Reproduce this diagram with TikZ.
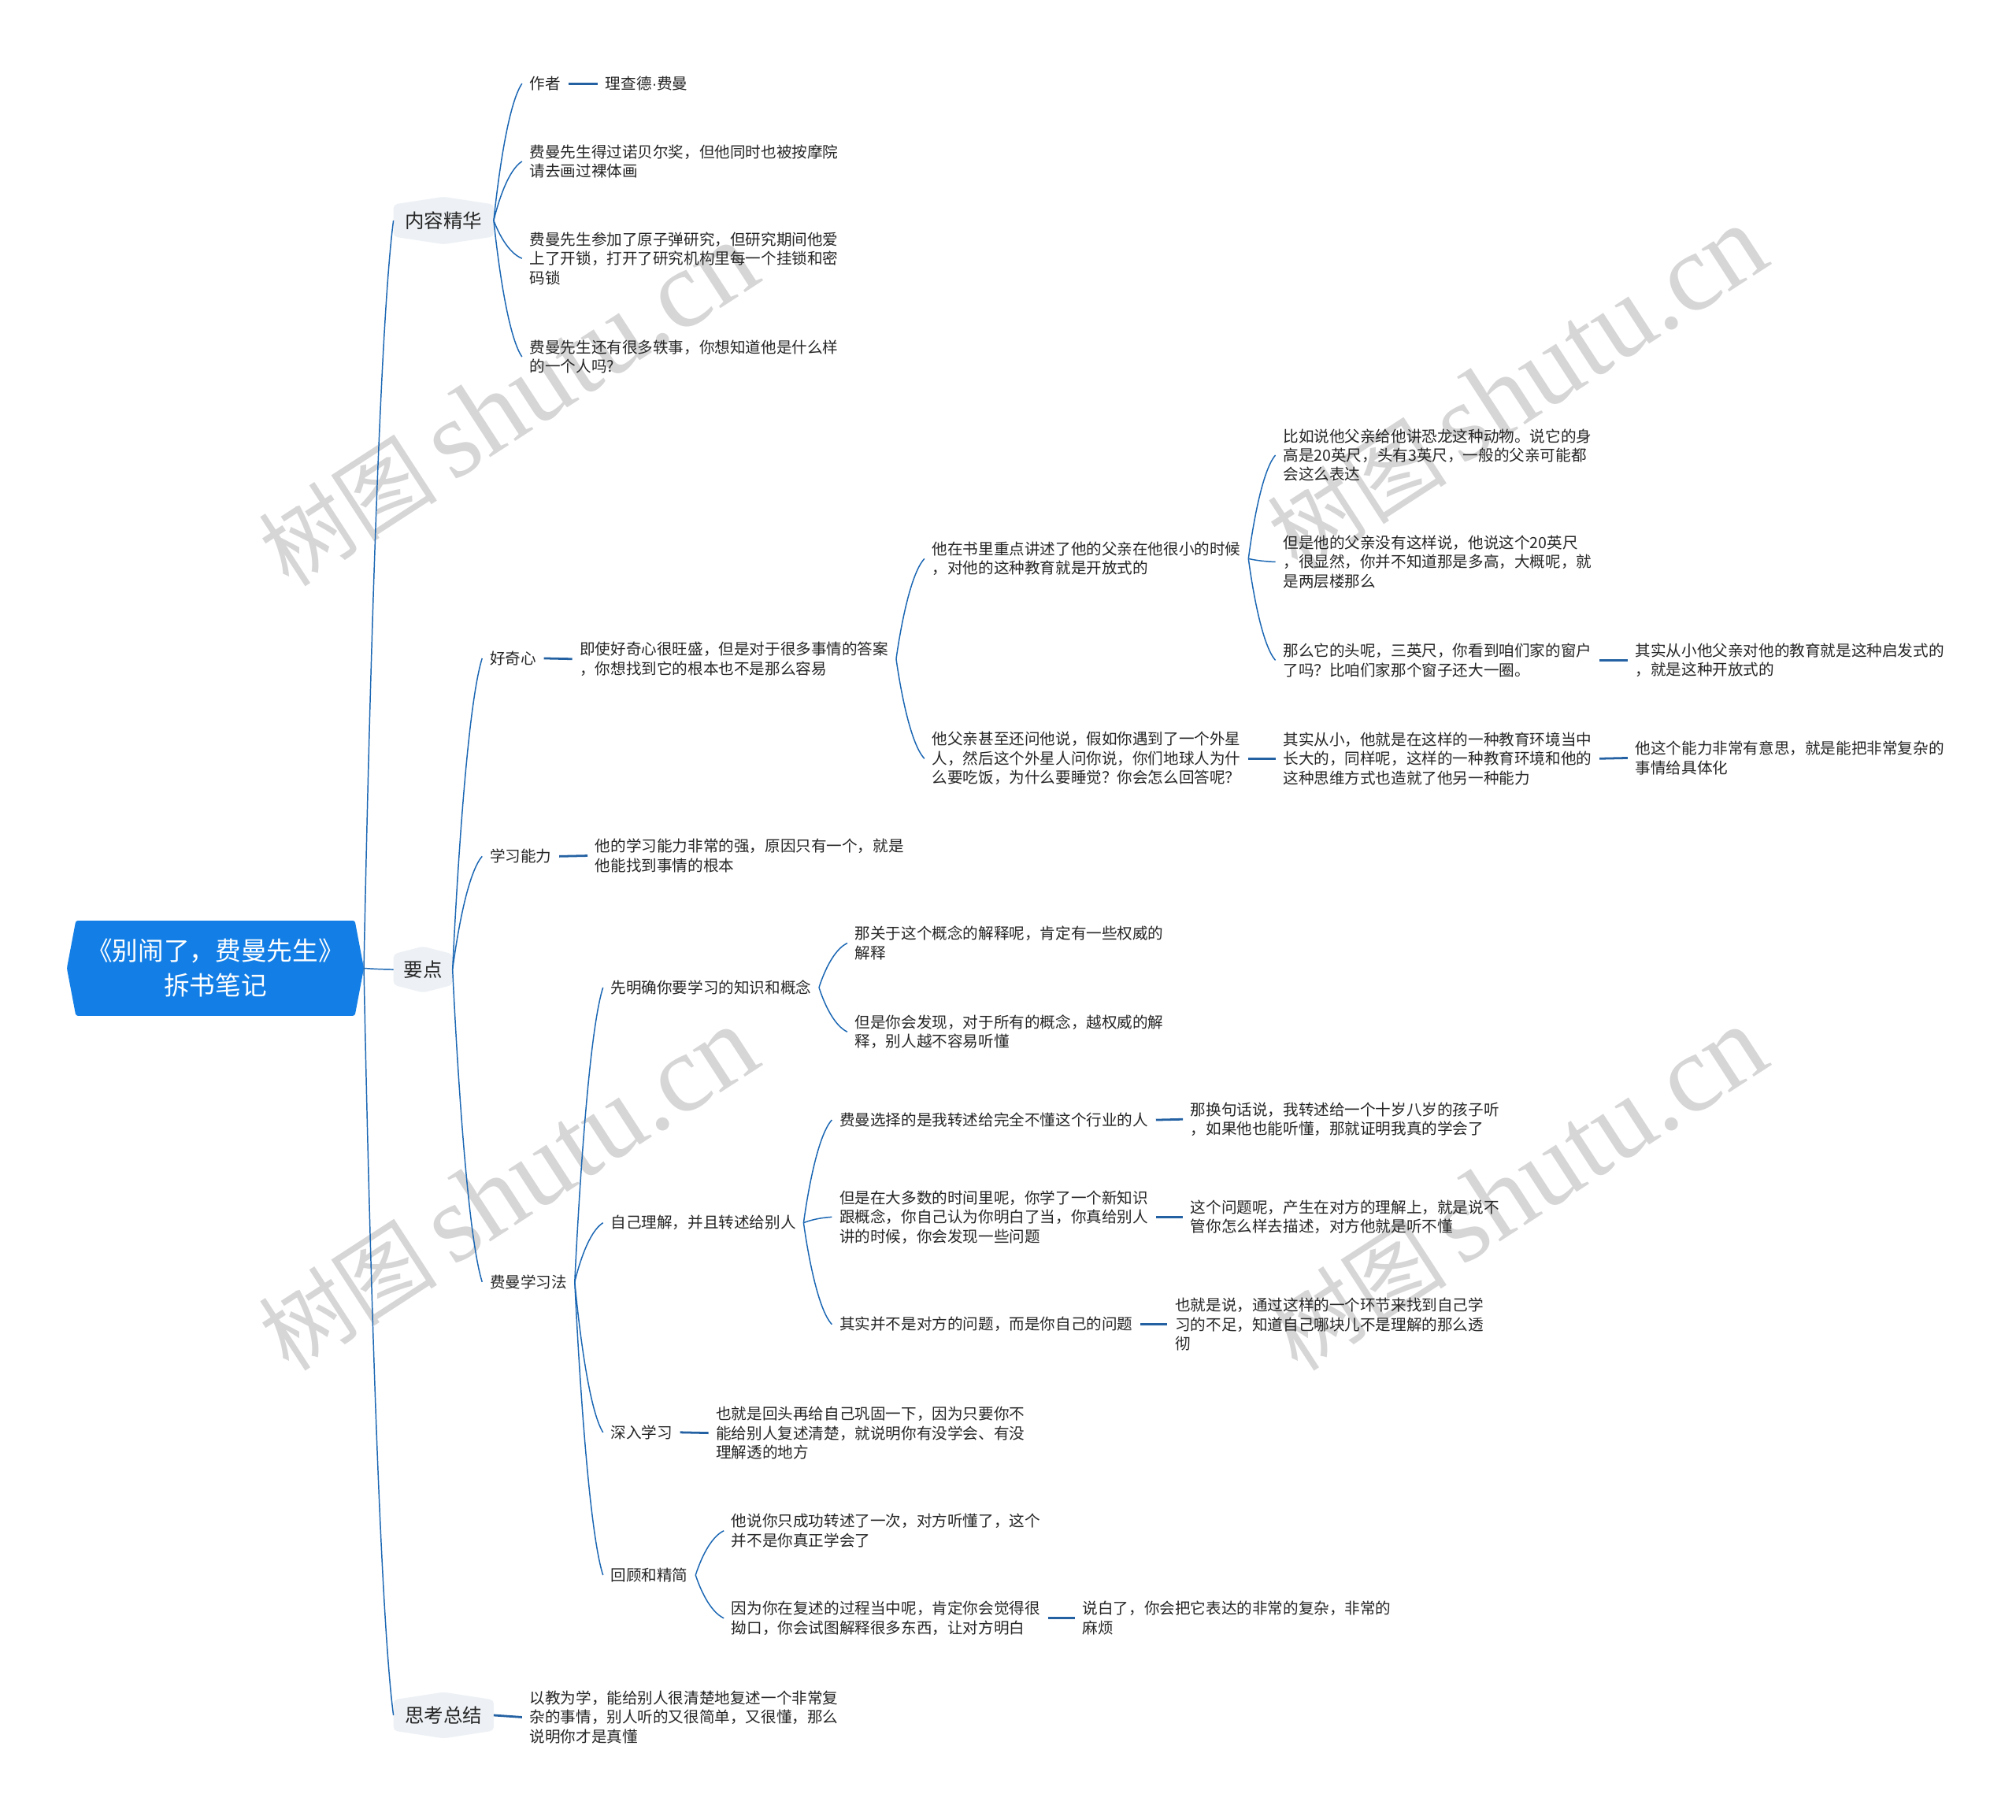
\documentclass[tikz,border=0pt]{standalone}
\usepackage{fontspec}
\setmainfont{Noto Sans CJK SC}
\newfontfamily\wmserif{Liberation Serif}
\newfontfamily\wmcjk{Noto Sans CJK SC}
\newfontfamily\latinsans{Liberation Sans}
\usetikzlibrary{calc}
\definecolor{linkc}{HTML}{1A66B3}
\definecolor{dashc}{HTML}{2461A3}
\definecolor{txtc}{HTML}{262626}
\definecolor{rootc}{HTML}{137FE6}
\definecolor{hexc}{HTML}{EDF1F5}
\definecolor{wmc}{HTML}{D6D6D6}
\tikzset{
  txt/.style={anchor=west, xshift=-3pt, inner sep=0pt, outer xsep=3pt, outer ysep=0pt, align=left, font=\fontsize{6pt}{7.5pt}\selectfont, text=txtc},
  hexlbl/.style={font=\fontsize{7.5pt}{9pt}\selectfont, text=txtc, inner sep=0pt, outer sep=0pt, minimum height=18pt},
  rootlbl/.style={font=\fontsize{10pt}{13.5pt}\selectfont, text=white, align=center, inner sep=0pt, outer sep=0pt, minimum width=115.5pt, minimum height=37pt},
  conlink/.style={draw=linkc, line width=0.45pt},
  dashcon/.style={draw=dashc, line width=0.85pt},
  wmark/.style={text=wmc, rotate=33, inner sep=0pt}
}
\newcommand\conncurve[2]{%
  \draw[conlink] let \p1=(#1.east), \p2=(#2.west) in (\p1) .. controls ({\x1+0.15*(\x2-\x1)},{\y1+0.3*(\y2-\y1)}) and ({\x1+0.5*(\x2-\x1)},{\y2-0.15*(\y2-\y1)}) .. (\p2);}
\newcommand\conndash[2]{\draw[dashcon] (#1.east) -- (#2.west);}
\begin{document}
\begin{tikzpicture}[x=0.5pt,y=-0.5pt]
\fill[white] (0,0) rectangle (1568,1415);
\useasboundingbox (0,0) rectangle (1568,1415);
% watermarks
\foreach \wx/\wy [count=\i] in {395/315,1180/302,395/925,1180/925}{
  \node[wmark] (wm\i) at (\wx,\wy) {{\wmcjk\fontsize{35pt}{35pt}\selectfont 树图}\hspace{6pt}{\wmserif\fontsize{43pt}{43pt}\selectfont shutu.cn}};
}
% root
\fill[rootc, rounded corners=0.8pt] (52,753) -- (59,716) -- (276,716) -- (283,753) -- (276,790) -- (59,790) -- cycle;
\node[rootlbl] (root) at (167.5,753) {《别闹了，费曼先生》\\拆书笔记};
% level 1
\fill[hexc, rounded corners=1.5pt] (306,159) -- (345,153) -- (384,159) -- (384,184) -- (345,190) -- (306,184) -- cycle;
\node[hexlbl, minimum width=39pt] (A) at (345,171.5) {内容精华};
\fill[hexc, rounded corners=1.5pt] (306,742) -- (329,736) -- (352,742) -- (352,766) -- (329,772) -- (306,766) -- cycle;
\node[hexlbl, minimum width=23pt] (B) at (329,754) {要点};
\fill[hexc, rounded corners=1.5pt] (306,1322) -- (345,1316) -- (384,1322) -- (384,1346) -- (345,1352) -- (306,1346) -- cycle;
\node[hexlbl, minimum width=39pt] (C) at (345,1334) {思考总结};
% content branch
\node[txt] (a1) at (412,65) {作者};
\node[txt] (a1x) at (471,65) {理查德{\latinsans ·}费曼};
\node[txt] (a2) at (412,125.5) {费曼先生得过诺贝尔奖，但他同时也被按摩院\\请去画过裸体画};
\node[txt] (a3) at (412,201) {费曼先生参加了原子弹研究，但研究期间他爱\\上了开锁，打开了研究机构里每一个挂锁和密\\码锁};
\node[txt] (a4) at (412,277.5) {费曼先生还有很多轶事，你想知道他是什么样\\的一个人吗?};
% key points
\node[txt] (b1) at (381,512) {好奇心};
\node[txt] (b1a) at (451,512.5) {即使好奇心很旺盛，但是对于很多事情的答案\\，你想找到它的根本也不是那么容易};
\node[txt] (b1a1) at (725,434.5) {他在书里重点讲述了他的父亲在他很小的时候\\，对他的这种教育就是开放式的};
\node[txt] (b1a2) at (725,590) {他父亲甚至还问他说，假如你遇到了一个外星\\人，然后这个外星人问你说，你们地球人为什\\么要吃饭，为什么要睡觉？你会怎么回答呢？};
\node[txt] (p1) at (998,354) {比如说他父亲给他讲恐龙这种动物。说它的身\\高是20英尺，头有3英尺，一般的父亲可能都\\会这么表达};
\node[txt] (p2) at (998,437) {但是他的父亲没有这样说，他说这个20英尺\\，很显然，你并不知道那是多高，大概呢，就\\是两层楼那么};
\node[txt] (p3) at (998,513.5) {那么它的头呢，三英尺，你看到咱们家的窗户\\了吗？比咱们家那个窗子还大一圈。};
\node[txt] (p3a) at (1272,513.5) {其实从小他父亲对他的教育就是这种启发式的\\，就是这种开放式的};
\node[txt] (q1) at (998,590) {其实从小，他就是在这样的一种教育环境当中\\长大的，同样呢，这样的一种教育环境和他的\\这种思维方式也造就了他另一种能力};
\node[txt] (q1a) at (1272,589.5) {他这个能力非常有意思，就是能把非常复杂的\\事情给具体化};
\node[txt] (b2) at (381,666) {学习能力};
\node[txt] (b2a) at (463,665.5) {他的学习能力非常的强，原因只有一个，就是\\他能找到事情的根本};
\node[txt] (b3) at (381,997) {费曼学习法};
\node[txt] (f1) at (475,768) {先明确你要学习的知识和概念};
\node[txt] (f1a) at (665,733.5) {那关于这个概念的解释呢，肯定有一些权威的\\解释};
\node[txt] (f1b) at (665,802.5) {但是你会发现，对于所有的概念，越权威的解\\释，别人越不容易听懂};
\node[txt] (f2) at (475,951) {自己理解，并且转述给别人};
\node[txt] (f2a) at (653,871) {费曼选择的是我转述给完全不懂这个行业的人};
\node[txt] (f2aa) at (926,870.5) {那换句话说，我转述给一个十岁八岁的孩子听\\，如果他也能听懂，那就证明我真的学会了};
\node[txt] (f2b) at (653,946.5) {但是在大多数的时间里呢，你学了一个新知识\\跟概念，你自己认为你明白了当，你真给别人\\讲的时候，你会发现一些问题};
\node[txt] (f2ba) at (926,946.5) {这个问题呢，产生在对方的理解上，就是说不\\管你怎么样去描述，对方他就是听不懂};
\node[txt] (f2c) at (653,1030) {其实并不是对方的问题，而是你自己的问题};
\node[txt] (f2ca) at (914,1030) {也就是说，通过这样的一个环节来找到自己学\\习的不足，知道自己哪块儿不是理解的那么透\\彻};
\node[txt] (f3) at (475,1114) {深入学习};
\node[txt] (f3a) at (557,1114.5) {也就是回头再给自己巩固一下，因为只要你不\\能给别人复述清楚，就说明你有没学会、有没\\理解透的地方};
\node[txt] (f4) at (475,1225) {回顾和精简};
\node[txt] (f4a) at (569,1190.5) {他说你只成功转述了一次，对方听懂了，这个\\并不是你真正学会了};
\node[txt] (f4b) at (569,1258.5) {因为你在复述的过程当中呢，肯定你会觉得很\\拗口，你会试图解释很多东西，让对方明白};
\node[txt] (f4ba) at (842,1258.5) {说白了，你会把它表达的非常的复杂，非常的\\麻烦};
\node[txt] (c1) at (412,1335.5) {以教为学，能给别人很清楚地复述一个非常复\\杂的事情，别人听的又很简单，又很懂，那么\\说明你才是真懂};
% connectors
\conncurve{root}{A}
\conncurve{root}{B}
\conncurve{root}{C}
\conncurve{A}{a1}
\conncurve{A}{a2}
\conncurve{A}{a3}
\conncurve{A}{a4}
\conndash{a1}{a1x}
\conncurve{B}{b1}
\conncurve{B}{b2}
\conncurve{B}{b3}
\conndash{b1}{b1a}
\conncurve{b1a}{b1a1}
\conncurve{b1a}{b1a2}
\conncurve{b1a1}{p1}
\conncurve{b1a1}{p2}
\conncurve{b1a1}{p3}
\conndash{p3}{p3a}
\conndash{b1a2}{q1}
\conndash{q1}{q1a}
\conndash{b2}{b2a}
\conncurve{b3}{f1}
\conncurve{b3}{f2}
\conncurve{b3}{f3}
\conncurve{b3}{f4}
\conncurve{f1}{f1a}
\conncurve{f1}{f1b}
\conncurve{f2}{f2a}
\conncurve{f2}{f2b}
\conncurve{f2}{f2c}
\conndash{f2a}{f2aa}
\conndash{f2b}{f2ba}
\conndash{f2c}{f2ca}
\conndash{f3}{f3a}
\conncurve{f4}{f4a}
\conncurve{f4}{f4b}
\conndash{f4b}{f4ba}
\conndash{C}{c1}
\end{tikzpicture}
\end{document}
